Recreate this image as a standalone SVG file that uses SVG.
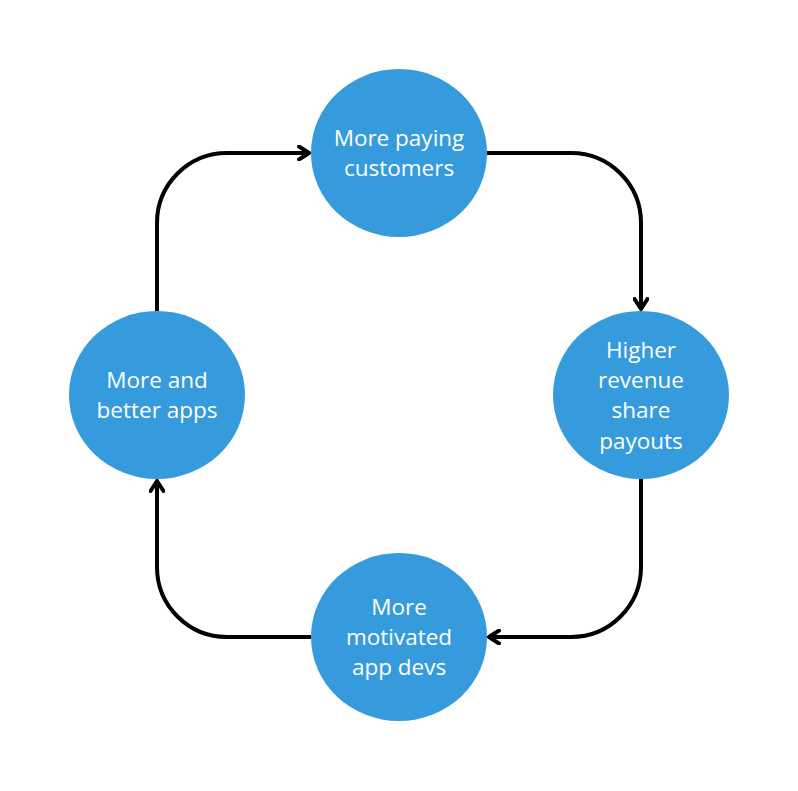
<svg xmlns="http://www.w3.org/2000/svg" width="798" height="791" viewBox="0 0 798 791">
<style>
.node ellipse{fill:#369bdc}
.node text{fill:#ffffff;font-family:"Open Sans","Noto Sans",sans-serif;font-size:22.5px;text-anchor:middle}
.conn path{fill:none;stroke:#000;stroke-width:4;stroke-linejoin:round}
</style>
<defs>
<marker id="arr" markerUnits="userSpaceOnUse" viewBox="0 0 14 16" refX="12" refY="8" markerWidth="14" markerHeight="16" orient="auto">
<path d="M2,1.5 L12,8 L2,14.5" fill="none" stroke="#000" stroke-width="4" stroke-linecap="round" stroke-linejoin="round"/>
</marker>
</defs>
<rect width="798" height="791" fill="#ffffff"/>
<g class="conn" id="connectors">
<path d="M157,311 V223 A70,70 0 0 1 227,153 H309" marker-end="url(#arr)"/>
<path d="M487,153 H571 A70,70 0 0 1 641,223 V309" marker-end="url(#arr)"/>
<path d="M641,479 V567 A70,70 0 0 1 571,637 H489" marker-end="url(#arr)"/>
<path d="M311,637 H227 A70,70 0 0 1 157,567 V481" marker-end="url(#arr)"/>
</g>
<g class="node" id="node-customers">
<ellipse cx="399" cy="153" rx="88" ry="84"/>
<text x="399" y="146">More paying</text>
<text x="399" y="176">customers</text>
</g>
<g class="node" id="node-payouts">
<ellipse cx="641" cy="395" rx="88" ry="84"/>
<text x="641" y="358">Higher</text>
<text x="641" y="388">revenue</text>
<text x="641" y="418">share</text>
<text x="641" y="449">payouts</text>
</g>
<g class="node" id="node-devs">
<ellipse cx="399" cy="637" rx="88" ry="84"/>
<text x="399" y="615">More</text>
<text x="399" y="645">motivated</text>
<text x="399" y="675">app devs</text>
</g>
<g class="node" id="node-apps">
<ellipse cx="157" cy="395" rx="88" ry="84"/>
<text x="157" y="388">More and</text>
<text x="157" y="418">better apps</text>
</g>
</svg>
